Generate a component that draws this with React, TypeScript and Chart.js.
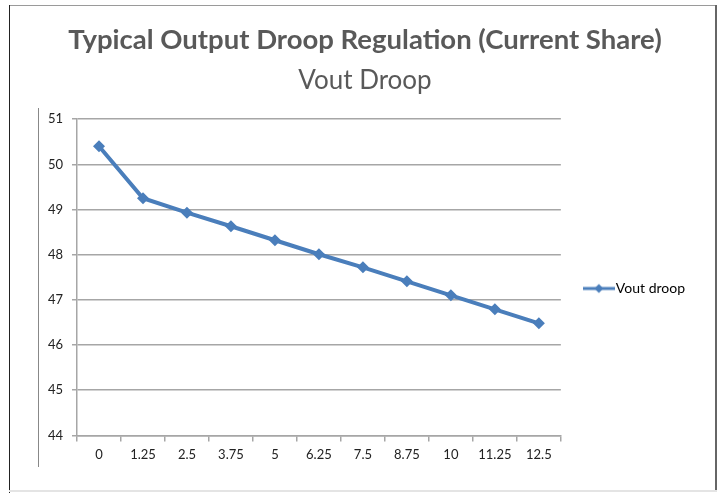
import React, { useEffect, useRef } from 'react';
import { Chart, registerables } from 'chart.js';

Chart.register(...registerables);

const categories = ['0', '1.25', '2.5', '3.75', '5', '6.25', '7.5', '8.75', '10', '11.25', '12.5'];
const voutDroop = [50.4, 49.25, 48.93, 48.63, 48.32, 48.01, 47.72, 47.41, 47.1, 46.79, 46.48];
const yMin = 44;
const yMax = 51;
const yStep = 1;
const seriesName = 'Vout droop';
const titleText = 'Typical Output Droop Regulation (Current Share)';
const subtitleText = 'Vout Droop';

const LINE_COLOR = '#4a7ebb';
const GRID_COLOR = '#a6a6a6';

export default function App() {
  const ref = useRef<HTMLCanvasElement | null>(null);

  useEffect(() => {
    if (!ref.current) return;
    const legendIcon = document.createElement('canvas');
    legendIcon.width = 32;
    legendIcon.height = 12;
    const lc = legendIcon.getContext('2d');
    if (lc) {
      lc.strokeStyle = LINE_COLOR;
      lc.lineWidth = 3;
      lc.beginPath();
      lc.moveTo(0, 6);
      lc.lineTo(32, 6);
      lc.stroke();
      lc.fillStyle = LINE_COLOR;
      lc.beginPath();
      lc.moveTo(16, 1.5);
      lc.lineTo(20.5, 6);
      lc.lineTo(16, 10.5);
      lc.lineTo(11.5, 6);
      lc.closePath();
      lc.fill();
    }

    const chart = new Chart(ref.current, {
      type: 'line',
      data: {
        labels: categories,
        datasets: [
          {
            label: seriesName,
            data: voutDroop,
            borderColor: LINE_COLOR,
            backgroundColor: LINE_COLOR,
            borderWidth: 4,
            pointStyle: 'rectRot',
            pointRadius: 6,
            pointBackgroundColor: LINE_COLOR,
            pointBorderColor: LINE_COLOR,
            pointBorderWidth: 0,
            tension: 0,
          },
        ],
      },
      options: {
        responsive: false,
        animation: false,
        layout: { padding: { left: 35, right: 25, top: 0, bottom: 24 } },
        plugins: {
          title: {
            display: true,
            text: titleText,
            color: '#595959',
            font: { family: 'Lato', size: 27.5, weight: 'bold' },
            padding: { top: 24, bottom: 8 },
          },
          subtitle: {
            display: true,
            text: subtitleText,
            color: '#595959',
            font: { family: 'Lato', size: 26, weight: 'normal' },
            padding: { top: 0, bottom: 23 },
          },
          legend: {
            display: true,
            position: 'right',
            fullSize: false,
            title: {
              display: true,
              text: ' ',
              font: { family: 'Lato', size: 12 },
              padding: { top: 4, bottom: 4 },
            },
            labels: {
              usePointStyle: true,
              pointStyleWidth: 20,
              boxHeight: 12,
              padding: 28,
              color: '#000',
              font: { family: 'Lato', size: 14 },
              generateLabels: (c: any) => {
                const items = Chart.defaults.plugins.legend.labels.generateLabels(c);
                return items.map((it: any) => ({ ...it, pointStyle: legendIcon }));
              },
            },
          },
          tooltip: { enabled: false },
        },
        scales: {
          x: {
            type: 'category',
            offset: true,
            grid: {
              offset: true,
              drawOnChartArea: false,
              drawTicks: true,
              tickLength: 6,
              color: GRID_COLOR,
              lineWidth: 1.5,
            },
            border: { color: GRID_COLOR, width: 1.5 },
            ticks: {
              color: '#222',
              font: { family: 'Lato', size: 13 },
              padding: 6,
              maxRotation: 0,
              autoSkip: false,
            },
          },
          y: {
            min: yMin,
            max: yMax,
            afterFit: (scale: any) => {
              scale.width = 42;
            },
            grid: {
              color: GRID_COLOR,
              lineWidth: 1.5,
              tickLength: 5,
              drawTicks: true,
            },
            border: { color: GRID_COLOR, width: 1.5 },
            ticks: {
              stepSize: yStep,
              color: '#222',
              font: { family: 'Lato', size: 13 },
              padding: 9,
            },
          },
        },
      },
    });
    return () => chart.destroy();
  }, []);

  return (
    <div style={{ position: 'absolute', left: 0, top: 0, width: 720, height: 493, background: '#fff' }}>
      <div style={{ position: 'absolute', left: 9, top: 5, width: 707, height: 0, borderTop: '1px solid #9a9a9a' }} />
      <div style={{ position: 'absolute', left: 9, top: 5, width: 0, height: 488, borderLeft: '1.5px solid #222' }} />
      <div style={{ position: 'absolute', left: 715, top: 5, width: 0, height: 486, borderLeft: '2px solid #666' }} />
      <div style={{ position: 'absolute', left: 9, top: 490, width: 708, height: 0, borderTop: '2px solid #e4e4e4' }} />
      <div style={{ position: 'absolute', left: 38, top: 108, width: 0, height: 359, borderLeft: '1px solid #888' }} />
      <canvas ref={ref} width={720} height={493} style={{ position: 'absolute', left: 0, top: 0 }} />
    </div>
  );
}
